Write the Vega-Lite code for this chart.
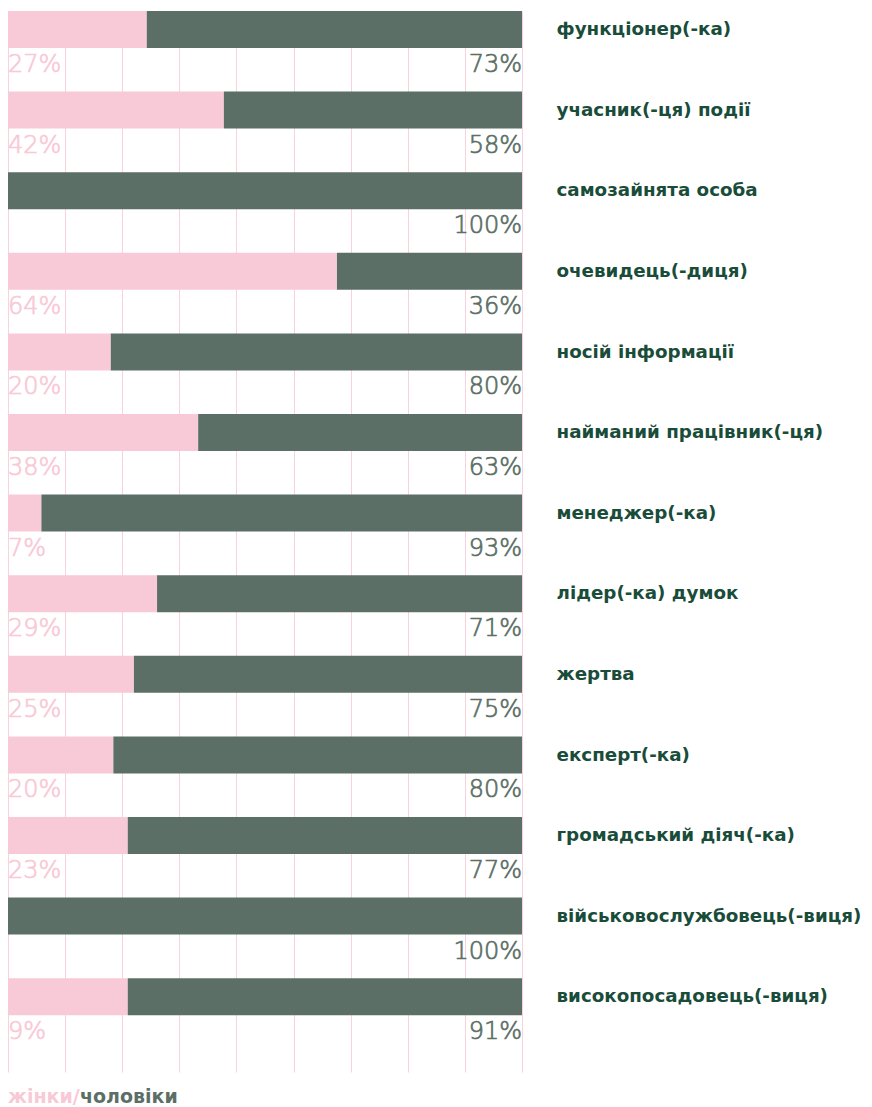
{
  "$schema": "https://vega.github.io/schema/vega-lite/v6.json",
  "autosize": "none",
  "padding": {"left": 8, "top": 11, "right": 350, "bottom": 35},
  "width": 514,
  "height": 1061,
  "background": "white",
  "config": {"view": {"stroke": null}},
  "data": {"values": [
    {"cat": "функціонер(-ка)", "sex": "жінки", "value": 27, "label": "27%"},
    {"cat": "функціонер(-ка)", "sex": "чоловіки", "value": 73, "label": "73%"},
    {"cat": "учасник(-ця) події", "sex": "жінки", "value": 42, "label": "42%"},
    {"cat": "учасник(-ця) події", "sex": "чоловіки", "value": 58, "label": "58%"},
    {"cat": "самозайнята особа", "sex": "жінки", "value": 0, "label": ""},
    {"cat": "самозайнята особа", "sex": "чоловіки", "value": 100, "label": "100%"},
    {"cat": "очевидець(-диця)", "sex": "жінки", "value": 64, "label": "64%"},
    {"cat": "очевидець(-диця)", "sex": "чоловіки", "value": 36, "label": "36%"},
    {"cat": "носій інформації", "sex": "жінки", "value": 20, "label": "20%"},
    {"cat": "носій інформації", "sex": "чоловіки", "value": 80, "label": "80%"},
    {"cat": "найманий працівник(-ця)", "sex": "жінки", "value": 37, "label": "38%"},
    {"cat": "найманий працівник(-ця)", "sex": "чоловіки", "value": 63, "label": "63%"},
    {"cat": "менеджер(-ка)", "sex": "жінки", "value": 6.5, "label": "7%"},
    {"cat": "менеджер(-ка)", "sex": "чоловіки", "value": 93.5, "label": "93%"},
    {"cat": "лідер(-ка) думок", "sex": "жінки", "value": 29, "label": "29%"},
    {"cat": "лідер(-ка) думок", "sex": "чоловіки", "value": 71, "label": "71%"},
    {"cat": "жертва", "sex": "жінки", "value": 24.5, "label": "25%"},
    {"cat": "жертва", "sex": "чоловіки", "value": 75.5, "label": "75%"},
    {"cat": "експерт(-ка)", "sex": "жінки", "value": 20.5, "label": "20%"},
    {"cat": "експерт(-ка)", "sex": "чоловіки", "value": 79.5, "label": "80%"},
    {"cat": "громадський діяч(-ка)", "sex": "жінки", "value": 23.3, "label": "23%"},
    {"cat": "громадський діяч(-ка)", "sex": "чоловіки", "value": 76.7, "label": "77%"},
    {"cat": "військовослужбовець(-виця)", "sex": "жінки", "value": 0, "label": ""},
    {"cat": "військовослужбовець(-виця)", "sex": "чоловіки", "value": 100, "label": "100%"},
    {"cat": "високопосадовець(-виця)", "sex": "жінки", "value": 23.3, "label": "9%"},
    {"cat": "високопосадовець(-виця)", "sex": "чоловіки", "value": 76.7, "label": "91%"}
  ]},
  "encoding": {
    "y": {
      "field": "cat", "type": "nominal", "sort": null,
      "scale": {"paddingInner": 0, "paddingOuter": 0.082, "align": 0},
      "axis": {
        "orient": "right", "title": null, "domain": false, "ticks": false, "tickSize": 0,
        "grid": false, "labelPadding": 34, "labelAlign": "left", "labelOffset": -21,
        "labelFont": "DejaVu Sans", "labelFontSize": 18.3, "labelFontWeight": "bold",
        "labelColor": "#1a4c3a", "labelLimit": 400
      }
    }
  },
  "layer": [
    {
      "mark": {"type": "bar", "height": 37, "yOffset": -21.8},
      "encoding": {
        "x": {
          "field": "value", "type": "quantitative", "stack": "normalize",
          "scale": {"domain": [0, 1], "nice": false},
          "axis": {
            "values": [0, 0.1111, 0.2222, 0.3333, 0.4444, 0.5556, 0.6667, 0.7778, 0.8889, 1],
            "grid": true, "gridColor": "#f9d2de", "gridWidth": 1, "gridOpacity": 1,
            "domain": false, "ticks": false, "labels": false, "title": null
          }
        },
        "color": {
          "field": "sex", "type": "nominal",
          "scale": {"domain": ["жінки", "чоловіки"], "range": ["#f8c9d6", "#5b6f66"]},
          "legend": {
            "orient": "bottom", "direction": "horizontal", "title": null,
            "symbolSize": 0, "symbolStrokeWidth": 0, "symbolOpacity": 0,
            "labelOffset": -19, "columnPadding": 0, "offset": 15,
            "labelFont": "DejaVu Sans", "labelFontSize": 19, "labelFontWeight": "bold",
            "labelExpr": "datum.label == 'жінки' ? 'жінки/' : datum.label",
            "encode": {"labels": {"update": {"fill": {"scale": "color", "field": "value"}}}}
          }
        },
        "order": {"field": "sex", "sort": "ascending"}
      }
    },
    {
      "transform": [{"filter": "datum.sex == 'жінки'"}],
      "mark": {"type": "text", "align": "left", "baseline": "alphabetic", "yOffset": 20.7,
               "font": "DejaVu Sans", "fontSize": 24, "fontWeight": 200, "strokeWidth": 0.7},
      "encoding": {
        "x": {"datum": 0, "type": "quantitative"},
        "text": {"field": "label"},
        "color": {"field": "sex", "type": "nominal", "legend": null},
        "stroke": {"field": "sex", "type": "nominal", "legend": null,
                   "scale": {"domain": ["жінки", "чоловіки"], "range": ["#f8c9d6", "#5b6f66"]}}
      }
    },
    {
      "transform": [{"filter": "datum.sex == 'чоловіки'"}],
      "mark": {"type": "text", "align": "right", "baseline": "alphabetic", "yOffset": 20.7,
               "font": "DejaVu Sans", "fontSize": 24, "fontWeight": 200, "strokeWidth": 0.7},
      "encoding": {
        "x": {"datum": 1, "type": "quantitative"},
        "text": {"field": "label"},
        "color": {"field": "sex", "type": "nominal", "legend": null},
        "stroke": {"field": "sex", "type": "nominal", "legend": null,
                   "scale": {"domain": ["жінки", "чоловіки"], "range": ["#f8c9d6", "#5b6f66"]}}
      }
    }
  ]
}
